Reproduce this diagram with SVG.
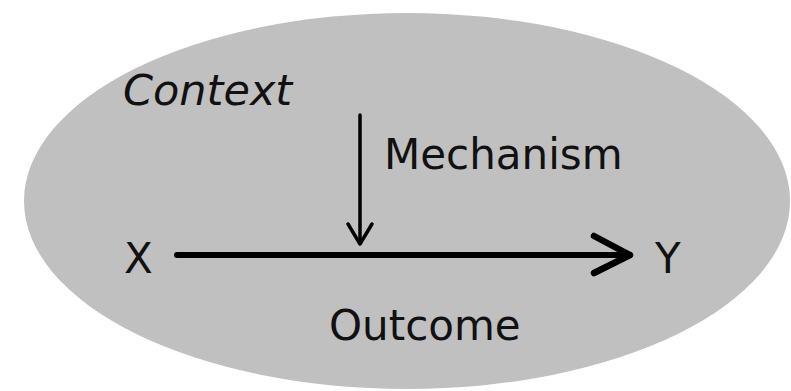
<svg xmlns="http://www.w3.org/2000/svg" width="791" height="391" viewBox="0 0 791 391">
<style>
.lbl{font-family:"DejaVu Sans",Verdana,sans-serif;font-size:42px;fill:#111}
.it{font-style:italic;font-size:43px}
.ln{stroke:#000;fill:none;stroke-linecap:round;stroke-linejoin:round}
</style>
<rect width="791" height="391" fill="#fff"/>
<g id="context">
<ellipse cx="407" cy="201" rx="383" ry="188" fill="#c0c0c0"/>
<text class="lbl it" x="123" y="105">Context</text>
</g>
<g id="x"><text class="lbl" x="124" y="273">X</text></g>
<g id="y"><text class="lbl" x="655" y="273">Y</text></g>
<g id="mechanism"><text class="lbl" x="384" y="169">Mechanism</text></g>
<g id="outcome"><text class="lbl" x="329" y="340">Outcome</text></g>
<g id="connectors">
<path class="ln" d="M177 255H630" stroke-width="6" stroke-linecap="butt"/>
<path class="ln" d="M594 236L630 255L594 273" stroke-width="6.5"/>
<path class="ln" d="M360 115V243" stroke-width="3.5" stroke-linecap="butt"/>
<path class="ln" d="M348 224L360 244L372 224" stroke-width="3.5"/>
</g>
</svg>
